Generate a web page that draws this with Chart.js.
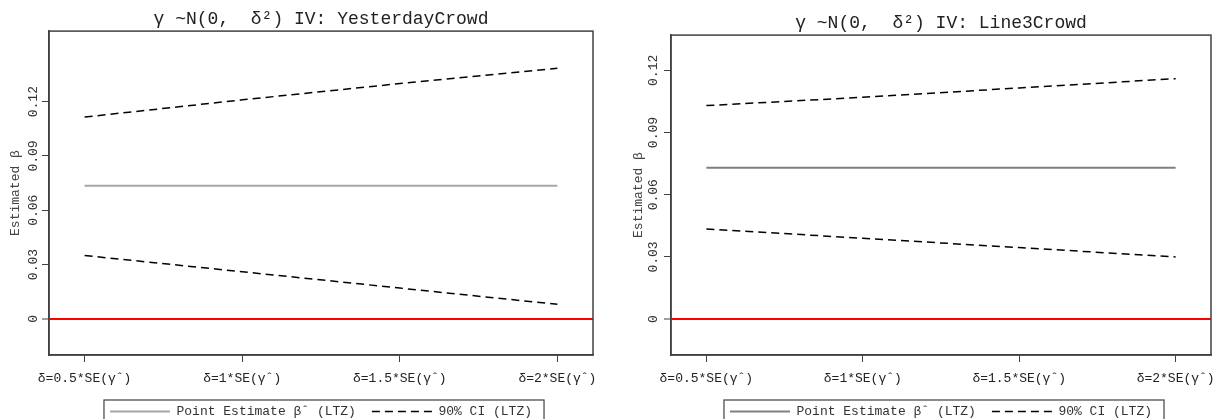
<!DOCTYPE html>
<html>
<head>
<meta charset="utf-8">
<script src="https://cdn.jsdelivr.net/npm/chart.js@4.4.0/dist/chart.umd.min.js"></script>
<style>
    html, body { margin: 0; padding: 0; background: #fff; overflow: hidden; }
    .panel { position: absolute; top: 0; width: 608px; height: 428px; }
    #panel-left { left: 0; }
    #panel-right { left: 608px; }
</style>
</head>
<body>
<div class="panel" id="panel-left"><canvas id="chart-left"></canvas></div>
<div class="panel" id="panel-right"><canvas id="chart-right"></canvas></div>
<script>
// x categories (delta as multiple of SE)
const deltaSteps = [0.5, 1, 1.5, 2];
const deltaLabels = ["δ=0.5*SE(γˆ)", "δ=1*SE(γˆ)", "δ=1.5*SE(γˆ)", "δ=2*SE(γˆ)"];

// y ticks
const yTicks = [0, 0.03, 0.06, 0.09, 0.12];
const yTickLabels = ["0", "0.03", "0.06", "0.09", "0.12"];

// IV: YesterdayCrowd
const yesterdayPoint = [0.0735, 0.0735, 0.0735, 0.0735];
const yesterdayUpper = [0.1115, 0.121, 0.130, 0.1385];
const yesterdayLower = [0.035, 0.026, 0.017, 0.008];

// IV: Line3Crowd
const line3Point = [0.073, 0.073, 0.073, 0.073];
const line3Upper = [0.103, 0.107, 0.1115, 0.116];
const line3Lower = [0.0435, 0.039, 0.0345, 0.030];

const zeroLine = 0;

const FONT = "'Liberation Mono', monospace";
const AXIS_COLOR = "#404040";

function toPoints(values) {
    return deltaSteps.map((d, i) => ({ x: d, y: values[i] }));
}

// full box around the plot area + border round the legend
const framePlugin = {
    id: "frame",
    afterDraw(chart) {
        const ctx = chart.ctx;
        const a = chart.chartArea;
        ctx.save();
        ctx.strokeStyle = AXIS_COLOR;
        ctx.lineWidth = 1.5;
        ctx.strokeRect(a.left, a.top, a.right - a.left, a.bottom - a.top);

        const hb = chart.legend.legendHitBoxes;
        if (hb && hb.length) {
            const l = Math.min(...hb.map(h => h.left)) - 6;
            const r = Math.max(...hb.map(h => h.left + h.width)) + 12;
            const t = hb[0].top - 5;
            ctx.lineWidth = 1.2;
            ctx.strokeRect(l, t, r - l, 60);
        }
        ctx.restore();
    },
};

function legendLabels(chart) {
    const items = Chart.defaults.plugins.legend.labels.generateLabels(chart);
    items.forEach(it => {
        const ds = chart.data.datasets[it.datasetIndex];
        it.lineDash = ds.borderDash || [];
        it.lineWidth = ds.borderWidth;
        it.strokeStyle = ds.borderColor;
    });
    return items;
}

function makeChart(id, title, point, upper, lower, cfg) {
    const ctx = document.getElementById(id).getContext("2d");
    return new Chart(ctx, {
        type: "line",
        data: {
            datasets: [
                {
                    label: "Point Estimate βˆ (LTZ)",
                    data: toPoints(point),
                    borderColor: cfg.pointColor,
                    borderWidth: 2,
                    pointRadius: 0,
                    fill: false,
                },
                {
                    label: "90% CI (LTZ)",
                    data: toPoints(upper),
                    borderColor: "#000",
                    borderWidth: 1.5,
                    borderDash: [8, 5],
                    pointRadius: 0,
                    fill: false,
                },
                {
                    label: "90% CI lower",
                    data: toPoints(lower),
                    borderColor: "#000",
                    borderWidth: 1.5,
                    borderDash: [8, 5],
                    pointRadius: 0,
                    fill: false,
                },
            ],
        },
        options: {
            responsive: true,
            maintainAspectRatio: false,
            animation: false,
            layout: {
                padding: { left: 0, right: cfg.padRight, top: 0, bottom: 0 },
            },
            plugins: {
                title: {
                    display: true,
                    text: title,
                    fullSize: false,
                    color: "#222",
                    font: { family: FONT, size: 18, weight: "normal" },
                    padding: { top: cfg.titleTop, bottom: 1.5 },
                },
                legend: {
                    position: "bottom",
                    fullSize: false,
                    labels: {
                        usePointStyle: true,
                        pointStyle: "line",
                        pointStyleWidth: 60,
                        padding: 16,
                        color: "#333",
                        font: { family: FONT, size: 13 },
                        generateLabels: legendLabels,
                        filter: item => item.datasetIndex < 2,
                    },
                },
                tooltip: { enabled: false },
            },
            scales: {
                x: {
                    type: "linear",
                    min: 0.387,
                    max: 2.113,
                    afterBuildTicks: axis => {
                        axis.ticks = deltaSteps.map(v => ({ value: v }));
                    },
                    afterFit: axis => {
                        axis.height = 34;
                        axis.paddingLeft = 0;
                        axis.paddingRight = 0;
                    },
                    border: { color: AXIS_COLOR, width: 1.5 },
                    grid: {
                        drawOnChartArea: false,
                        tickLength: 7,
                        color: AXIS_COLOR,
                    },
                    ticks: {
                        autoSkip: false,
                        maxRotation: 0,
                        padding: 9,
                        color: "#222",
                        font: { family: FONT, size: 13 },
                        callback: v => deltaLabels[deltaSteps.indexOf(v)],
                    },
                },
                y: {
                    type: "linear",
                    min: cfg.yMin,
                    max: cfg.yMax,
                    afterBuildTicks: axis => {
                        axis.ticks = yTicks.map(v => ({ value: v }));
                    },
                    afterFit: axis => {
                        axis.width = cfg.axisWidth;
                        axis.paddingTop = 0;
                        axis.paddingBottom = 0;
                    },
                    border: { color: AXIS_COLOR, width: 1.5 },
                    grid: {
                        drawOnChartArea: true,
                        tickLength: 7,
                        tickColor: AXIS_COLOR,
                        tickWidth: 1,
                        color: c => (c.tick && c.tick.value === zeroLine ? "#ff0000" : "rgba(0,0,0,0)"),
                        lineWidth: c => (c.tick && c.tick.value === zeroLine ? 2 : 1),
                    },
                    ticks: {
                        autoSkip: false,
                        minRotation: 90,
                        maxRotation: 90,
                        crossAlign: "center",
                        padding: cfg.tickPad,
                        color: "#333",
                        font: { family: FONT, size: 13 },
                        callback: v => yTickLabels[yTicks.indexOf(v)],
                    },
                    title: {
                        display: true,
                        text: "Estimated β",
                        color: "#444",
                        font: { family: FONT, size: 13 },
                        padding: { top: cfg.yTitlePad, bottom: 0 },
                    },
                },
            },
        },
        plugins: [framePlugin],
    });
}

makeChart("chart-left", "γ ~N(0,  δ²) IV: YesterdayCrowd",
    yesterdayPoint, yesterdayUpper, yesterdayLower, {
        pointColor: "#a6a6a6",
        yMin: -0.02,
        yMax: 0.159,
        axisWidth: 49,
        padRight: 15,
        titleTop: 8,
        tickPad: -7.4,
        yTitlePad: 8,
    });

makeChart("chart-right", "γ ~N(0,  δ²) IV: Line3Crowd",
    line3Point, line3Upper, line3Lower, {
        pointColor: "#808080",
        yMin: -0.0173,
        yMax: 0.137,
        axisWidth: 63,
        padRight: 5,
        titleTop: 12,
        tickPad: -5.4,
        yTitlePad: 23,
    });
</script>
</body>
</html>
